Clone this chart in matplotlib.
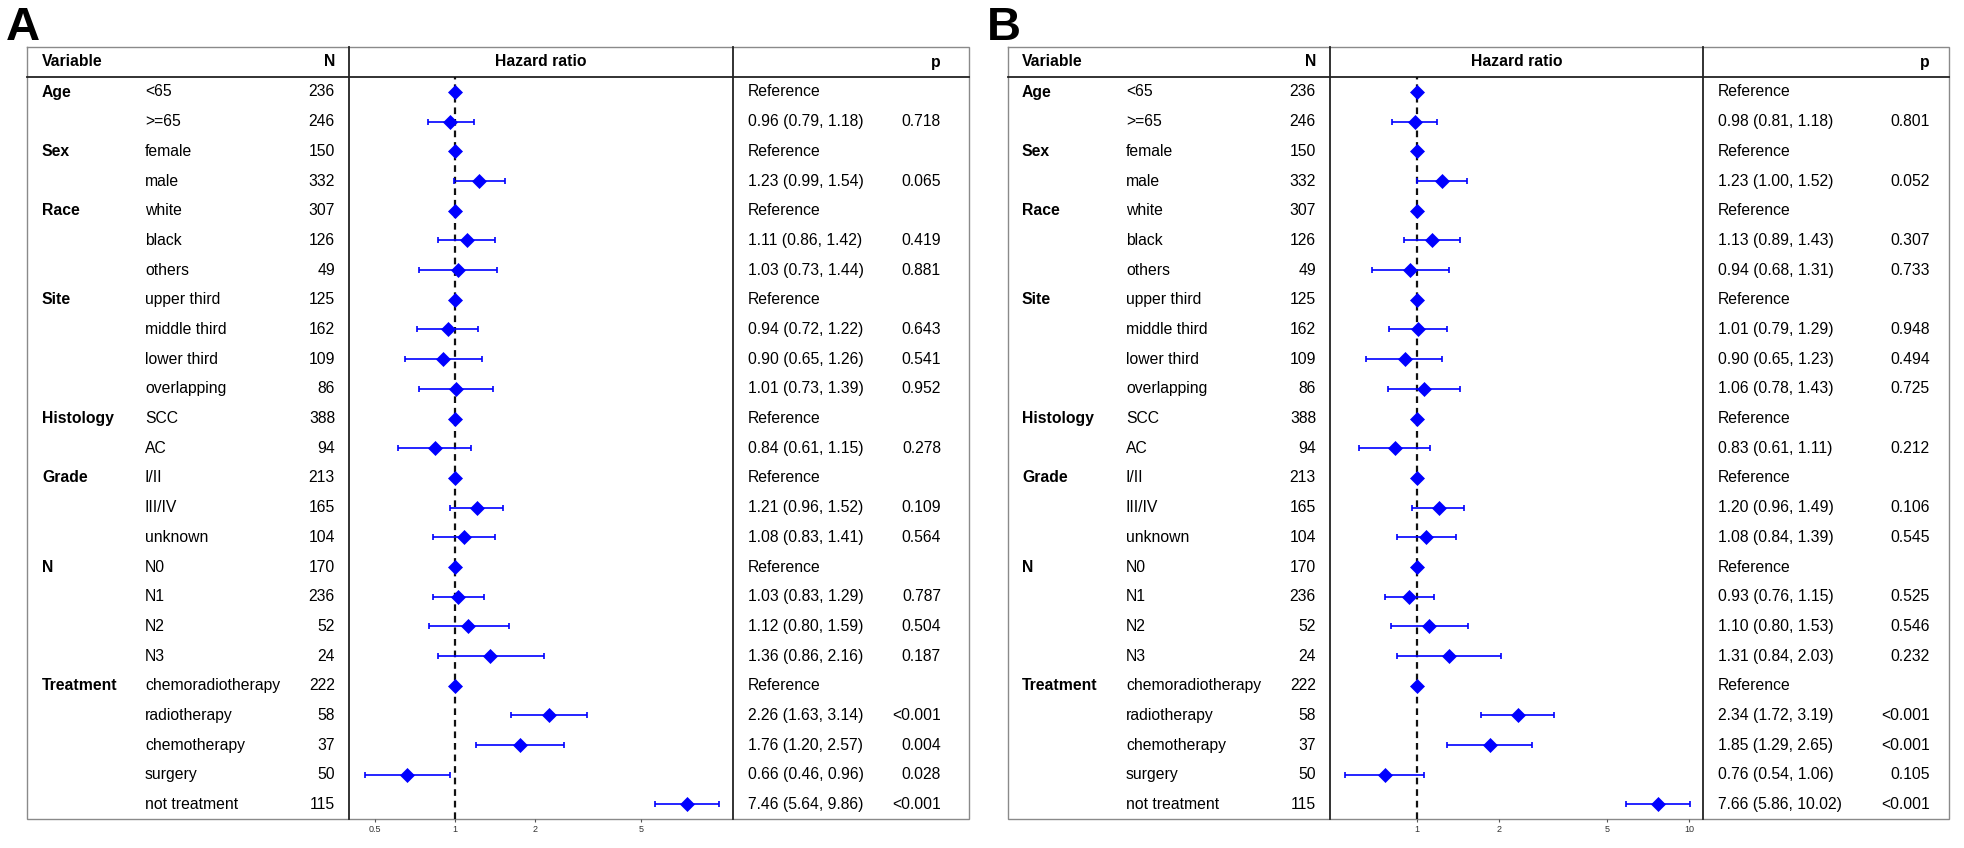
import matplotlib
matplotlib.use("Agg")
import matplotlib.pyplot as plt
import numpy as np

plt.rcParams['font.family'] = ['Liberation Sans', 'DejaVu Sans']

# ---------------- data ----------------
groups = ["Age", "", "Sex", "", "Race", "", "", "Site", "", "", "", "Histology", "",
          "Grade", "", "", "N", "", "", "", "Treatment", "", "", "", ""]
subgroups = ["<65", ">=65", "female", "male", "white", "black", "others",
             "upper third", "middle third", "lower third", "overlapping",
             "SCC", "AC", "I/II", "III/IV", "unknown", "N0", "N1", "N2", "N3",
             "chemoradiotherapy", "radiotherapy", "chemotherapy", "surgery", "not treatment"]
counts = [236, 246, 150, 332, 307, 126, 49, 125, 162, 109, 86, 388, 94,
          213, 165, 104, 170, 236, 52, 24, 222, 58, 37, 50, 115]

# Panel A (None = reference level)
hr_a = [None, 0.96, None, 1.23, None, 1.11, 1.03, None, 0.94, 0.90, 1.01, None, 0.84,
        None, 1.21, 1.08, None, 1.03, 1.12, 1.36, None, 2.26, 1.76, 0.66, 7.46]
lo_a = [None, 0.79, None, 0.99, None, 0.86, 0.73, None, 0.72, 0.65, 0.73, None, 0.61,
        None, 0.96, 0.83, None, 0.83, 0.80, 0.86, None, 1.63, 1.20, 0.46, 5.64]
hi_a = [None, 1.18, None, 1.54, None, 1.42, 1.44, None, 1.22, 1.26, 1.39, None, 1.15,
        None, 1.52, 1.41, None, 1.29, 1.59, 2.16, None, 3.14, 2.57, 0.96, 9.86]
p_a = ["", "0.718", "", "0.065", "", "0.419", "0.881", "", "0.643", "0.541", "0.952", "", "0.278",
       "", "0.109", "0.564", "", "0.787", "0.504", "0.187", "", "<0.001", "0.004", "0.028", "<0.001"]

# Panel B
hr_b = [None, 0.98, None, 1.23, None, 1.13, 0.94, None, 1.01, 0.90, 1.06, None, 0.83,
        None, 1.20, 1.08, None, 0.93, 1.10, 1.31, None, 2.34, 1.85, 0.76, 7.66]
lo_b = [None, 0.81, None, 1.00, None, 0.89, 0.68, None, 0.79, 0.65, 0.78, None, 0.61,
        None, 0.96, 0.84, None, 0.76, 0.80, 0.84, None, 1.72, 1.29, 0.54, 5.86]
hi_b = [None, 1.18, None, 1.52, None, 1.43, 1.31, None, 1.29, 1.23, 1.43, None, 1.11,
        None, 1.49, 1.39, None, 1.15, 1.53, 2.03, None, 3.19, 2.65, 1.06, 10.02]
p_b = ["", "0.801", "", "0.052", "", "0.307", "0.733", "", "0.948", "0.494", "0.725", "", "0.212",
       "", "0.106", "0.545", "", "0.525", "0.546", "0.232", "", "<0.001", "<0.001", "0.105", "<0.001"]

ticks_a = [0.5, 1, 2, 5]
ticks_b = [1, 2, 5, 10]
tick_labels_a = ["0.5", "1", "2", "5"]
tick_labels_b = ["1", "2", "5", "10"]

# ---------------- layout (pixels) ----------------
W, H = 1965, 848
fig = plt.figure(figsize=(W / 100, H / 100), dpi=100)
bg = fig.add_axes([0, 0, 1, 1])
bg.set_xlim(0, W)
bg.set_ylim(H, 0)
bg.axis("off")

TOP, HEAD_LINE, BOTTOM = 47, 77, 819
HEAD_Y = 62
ROW0 = 92.0
nrows = len(subgroups)
ROW_STEP = (804.5 - ROW0) / (nrows - 1)
row_y = ROW0 + ROW_STEP * np.arange(nrows)

FS = 11.3
BLUE = "#0000FF"

panels = [
    dict(label="A", L=27, xN=349, xHR=733, R=969, var_x=42, sub_x=145, n_x=335,
         ref_x=748, p_x=941, hr=hr_a, lo=lo_a, hi=hi_a, p=p_a,
         log_one=455.0, per_dec=265.7, ticks=ticks_a, tl=tick_labels_a, lab_x=6),
    dict(label="B", L=1008, xN=1330, xHR=1703, R=1949, var_x=1022, sub_x=1126, n_x=1316,
         ref_x=1718, p_x=1930, hr=hr_b, lo=lo_b, hi=hi_b, p=p_b,
         log_one=1417.3, per_dec=272.0, ticks=ticks_b, tl=tick_labels_b, lab_x=987),
]

for P in panels:
    L, R, xN, xHR = P["L"], P["R"], P["xN"], P["xHR"]
    bg.text(P["lab_x"], 28, P["label"], fontsize=34, fontweight="bold",
            ha="left", va="center")
    bg.plot([L, R, R, L, L], [TOP, TOP, BOTTOM, BOTTOM, TOP], color="#8a8a8a", lw=1.0,
            solid_joinstyle="miter")
    bg.plot([L, R], [HEAD_LINE, HEAD_LINE], color="#222222", lw=1.3)
    for xv in (xN, xHR):
        bg.plot([xv, xv], [TOP, BOTTOM], color="#222222", lw=1.3)
    bg.text(P["var_x"], HEAD_Y, "Variable", fontsize=FS, fontweight="bold", ha="left", va="center")
    bg.text(P["n_x"], HEAD_Y, "N", fontsize=FS, fontweight="bold", ha="right", va="center")
    bg.text((xN + xHR) / 2, HEAD_Y, "Hazard ratio", fontsize=FS, fontweight="bold",
            ha="center", va="center")
    bg.text(P["p_x"], HEAD_Y, "p", fontsize=FS, fontweight="bold", ha="right", va="center")
    for i in range(nrows):
        y = row_y[i]
        if groups[i]:
            bg.text(P["var_x"], y, groups[i], fontsize=FS, fontweight="bold",
                    ha="left", va="center")
        bg.text(P["sub_x"], y, subgroups[i], fontsize=FS, ha="left", va="center")
        bg.text(P["n_x"], y, str(counts[i]), fontsize=FS, ha="right", va="center")
        if P["hr"][i] is None:
            bg.text(P["ref_x"], y, "Reference", fontsize=FS, ha="left", va="center")
        else:
            s = f"{P['hr'][i]:.2f} ({P['lo'][i]:.2f}, {P['hi'][i]:.2f})"
            bg.text(P["ref_x"], y, s, fontsize=FS, ha="left", va="center")
            bg.text(P["p_x"], y, P["p"][i], fontsize=FS, ha="right", va="center")

    # forest axes
    xmin = 10 ** ((xN - P["log_one"]) / P["per_dec"])
    xmax = 10 ** ((xHR - P["log_one"]) / P["per_dec"])
    ax = fig.add_axes([xN / W, (H - BOTTOM) / H, (xHR - xN) / W, (BOTTOM - HEAD_LINE) / H])
    ax.patch.set_alpha(0)
    ax.set_xscale("log")
    ax.set_xlim(xmin, xmax)
    ax.set_ylim(BOTTOM, HEAD_LINE)
    for sp in ax.spines.values():
        sp.set_visible(False)
    ax.axvline(1, color="#111111", lw=1.6, ls=(0, (3, 2.2)), zorder=1)
    hr = np.array([1.0 if v is None else v for v in P["hr"]])
    lo = np.array([1.0 if v is None else v for v in P["lo"]])
    hi = np.array([1.0 if v is None else v for v in P["hi"]])
    has_ci = np.array([v is not None for v in P["hr"]])
    ax.errorbar(hr[has_ci], row_y[has_ci],
                xerr=[hr[has_ci] - lo[has_ci], hi[has_ci] - hr[has_ci]],
                fmt="none", ecolor=BLUE, elinewidth=1.2, capsize=2.0, capthick=1.2, zorder=2)
    ax.plot(hr, row_y, ls="none", marker="D", ms=6.8, color=BLUE, mec=BLUE, mew=0.5, zorder=3)
    ax.set_yticks([])
    ax.xaxis.set_minor_locator(matplotlib.ticker.NullLocator())
    ax.set_xticks(P["ticks"])
    ax.set_xticklabels(P["tl"])
    ax.tick_params(axis="x", length=2, width=0.8, color="#555555", labelsize=6.5,
                   labelcolor="#333333", pad=2)

fig.savefig("out.png", dpi=100)
